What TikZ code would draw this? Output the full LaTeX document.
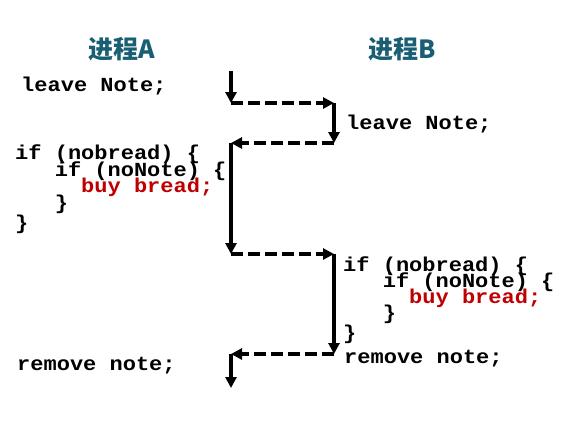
\documentclass[tikz,border=0pt]{standalone}
\usepackage{fontspec}
\setmonofont[FakeStretch=1.1]{Liberation Mono}
\newfontfamily\cjk{Noto Sans CJK SC}
\usetikzlibrary{arrows.meta}
\definecolor{titleteal}{RGB}{26,94,115}
\definecolor{codered}{RGB}{192,0,0}
\begin{document}
\begin{tikzpicture}[x=1pt,y=-1pt,
  code/.style={anchor=base west, inner sep=0pt, font=\ttfamily\bfseries\fontsize{20}{20}\selectfont},
  redcode/.style={code, text=codered},
  title/.style={anchor=base west, inner sep=0pt, text=titleteal, font=\cjk\bfseries\fontsize{25}{25}\selectfont},
  flow/.style={line width=3.3pt, -{Triangle[length=11pt,width=11pt]}},
  xfer/.style={flow, dash pattern=on 12pt off 5pt}]
\fill[white] (0,0) rectangle (562,426);
\useasboundingbox (0,0) rectangle (562,426);
% titles
\node[title] (tA) at (88,58) {进程A};
\node[title] (tB) at (368,58) {进程B};
% process A
\node[code] (aLeave) at (21,91) {leave Note;};
\node[code] (a1) at (15,159) {if (nobread) \{};
\node[code] (a2) at (54.6,176) {if (noNote) \{};
\node[redcode] (a3) at (81,192) {buy bread;};
\node[code] (a4) at (54.6,209) {\}};
\node[code] (a5) at (15,229) {\}};
\node[code] (aRem) at (17,370) {remove note;};
% process B
\node[code] (bLeave) at (346,129) {leave Note;};
\node[code] (b1) at (343,271) {if (nobread) \{};
\node[code] (b2) at (382.6,287) {if (noNote) \{};
\node[redcode] (b3) at (409,303) {buy bread;};
\node[code] (b4) at (382.6,319) {\}};
\node[code] (b5) at (343,339) {\}};
\node[code] (bRem) at (344,363) {remove note;};
% execution path
\coordinate (c0) at (231,71);
\coordinate (c1) at (231,103);
\coordinate (c2) at (334,103);
\coordinate (c3) at (334,143);
\coordinate (c4) at (231,143);
\coordinate (c5) at (231,254);
\coordinate (c6) at (334,254);
\coordinate (c7) at (334,354);
\coordinate (c8) at (231,354);
\coordinate (c9) at (231,388);
\draw[flow] (c0) -- (c1);
\draw[xfer] (c1) -- (c2);
\draw[flow] (c2) -- (c3);
\draw[xfer] (c3) -- (c4);
\draw[flow] (c4) -- (c5);
\draw[xfer] (c5) -- (c6);
\draw[flow] (c6) -- (c7);
\draw[xfer] (c7) -- (c8);
\draw[flow] (c8) -- (c9);
\end{tikzpicture}
\end{document}
